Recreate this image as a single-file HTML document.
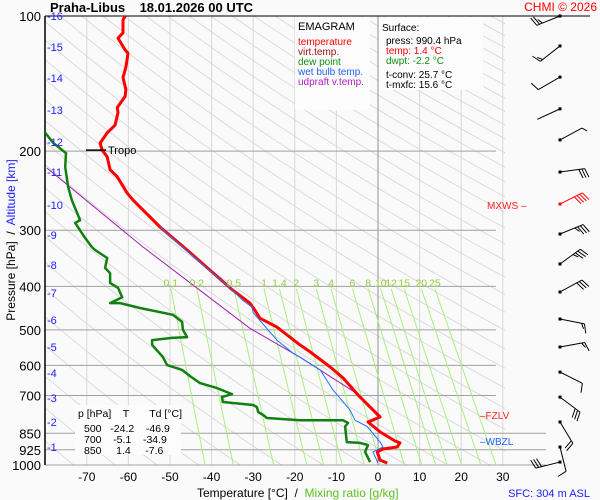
<!DOCTYPE html>
<html><head><meta charset="utf-8"><style>
body{margin:0;background:#fafafa;}
svg{display:block;font-family:"Liberation Sans",sans-serif;}
</style></head><body>
<svg id="chart" width="600" height="500" viewBox="0 0 600 500" xmlns="http://www.w3.org/2000/svg">
<defs><clipPath id="plotclip"><rect x="45" y="16" width="460" height="449"/></clipPath>
<clipPath id="plotclip2"><rect x="45" y="16" width="500" height="449"/></clipPath></defs>
<rect x="0" y="0" width="600" height="500" fill="#fafafa"/>
<g id="grid"></g>
<g id="series"></g>
<g id="barbs"></g>
<g id="labels"></g>

<text x="50" y="12" font-size="13" font-weight="bold" xml:space="preserve">Praha-Libus    18.01.2026 00 UTC</text>
<text x="597" y="11" font-size="12" fill="#ff0000" text-anchor="end">CHMI © 2026</text>

<g>
<rect x="295" y="17" width="75" height="93" fill="#fcfcfc"/>
<text x="298" y="30" font-size="11">EMAGRAM</text>
<text x="298" y="45" font-size="10" fill="#ff0000">temperature</text>
<text x="298" y="55" font-size="10" fill="#a01010">virt.temp.</text>
<text x="298" y="65" font-size="10" fill="#109010">dew point</text>
<text x="298" y="75" font-size="10" fill="#2060ff">wet bulb temp.</text>
<text x="298" y="85" font-size="10" fill="#b020c0">udpraft v.temp.</text>
</g>
<g>
<rect x="379" y="17" width="104" height="73" fill="#fcfcfc"/>
<text x="382" y="31" font-size="10">Surface:</text>
<text x="386" y="44" font-size="10">press: 990.4 hPa</text>
<text x="386" y="54" font-size="10" fill="#ff0000">temp: 1.4 °C</text>
<text x="386" y="64" font-size="10" fill="#109010">dwpt: -2.2 °C</text>
<text x="386" y="78" font-size="10">t-conv: 25.7 °C</text>
<text x="386" y="88" font-size="10">t-mxfc: 15.6 °C</text>
</g>
<g>
<rect x="75" y="405" width="106" height="50" fill="#fcfcfc"/>
<text x="78" y="417" font-size="10.5" xml:space="preserve">p [hPa]    T       Td [°C]</text>
<text x="84" y="432" font-size="10.5" xml:space="preserve">500   -24.2    -46.9</text>
<text x="84" y="443" font-size="10.5" xml:space="preserve">700    -5.1    -34.9</text>
<text x="84" y="454" font-size="10.5" xml:space="preserve">850     1.4     -7.6</text>
</g>

<text transform="translate(15,240) rotate(-90)" font-size="12" text-anchor="middle" xml:space="preserve">Pressure [hPa]  /  <tspan fill="#2020ff">Altitude [km]</tspan></text>
<text x="197" y="497" font-size="12" xml:space="preserve">Temperature [°C]  /  <tspan fill="#60c020">Mixing ratio [g/kg]</tspan></text>
<text x="590" y="497" font-size="11" fill="#2020ff" text-anchor="end">SFC: 304 m ASL</text>

<text x="487" y="209" font-size="10" fill="#ff2020">MXWS –</text>
<text x="480" y="419" font-size="10" fill="#ff2020">–FZLV</text>
<text x="480" y="445" font-size="10" fill="#2060ff">–WBZL</text>
</svg>
<script>
const tempP=[990,975,935,921,912,893,884,844,802,782,743,698,640,605,560,540,493,471,452,436,408,332,295,257,248,228,220,206,199,192,182,175,164,160,151,146,137,130,121,119,112,109,102,100];
const tempT=[2.2,0.5,-0.2,1.2,4.6,5.3,4.1,0.5,-2.4,0.5,-1.9,-4.8,-8.4,-11.5,-16.3,-18.8,-24.3,-28.4,-29.6,-30.8,-34.9,-45.9,-52.4,-58.9,-60.3,-62.7,-64.4,-65.1,-66.3,-66.8,-65.1,-63.2,-62.5,-62.7,-60.8,-60.6,-61.3,-60.6,-60.1,-60.8,-62.5,-61.3,-61.3,-60.8];
const dewP=[985,935,903,893,889,821,806,795,795,786,774,762,743,735,724,706,695,674,657,634,614,599,575,540,527,521,519,500,480,463,447,436,436,423,403,393,374,364,346,332,327,312,289,285,257,240,217,202,192,182,181];
const dewT=[-1.9,-3.1,-2.4,-4.3,-7.5,-7.9,-7.2,-8.4,-18.8,-26.7,-27.6,-28.8,-29.1,-30,-37.3,-37.5,-35.1,-38.7,-42.8,-45.2,-47.1,-50.7,-51.7,-54.3,-54.3,-49.5,-45.9,-46.9,-47.1,-49.3,-57.2,-62,-64.4,-61.5,-62.5,-64.4,-64.4,-65.6,-65.1,-68,-68.8,-70.4,-72.8,-71.6,-73.6,-74.5,-75.2,-75,-78,-80,-82];
const wetP=[990,935,912,889,821,795,755,681,614,575,564,527,458,445,430,403,332,295];
const wetT=[0,-1.2,1.2,0.5,-2.6,-5.5,-6.7,-10.8,-13.9,-18.8,-20.4,-24.3,-30,-30.3,-32.5,-35.6,-46.2,-52.4];
const updP=[689,575,496,327,218];
const updT=[-5.5,-18.8,-30.8,-56.5,-79.6];
const pressureTicks=[100,200,300,400,500,600,700,850,925,1000];
const tempTicks=[-70,-60,-50,-40,-30,-20,-10,0,10,20,30];
const altTicks=[16,15,14,13,12,11,10,9,8,7,6,5,4,3,2,1];
const altY=[16,47,78,110,142,172,205,235,265,293,320,347,373,398,422,447];
const mixRatios=[0.1,0.2,0.5,1,1.4,2,3,4,6,8,10,12,15,20,25];
const windP=[100,116.6,136.8,161,188.8,222.6,262.3,305.9,356.7,411.8,473,546,621,706,802,912,985];
const windDx=[-25,-23,-26,-24,24,22,22,22,22,22,20,22,22,20,12,5,-20];
const windDy=[10,18,15,11,-13,-3,-11,-9,-16,-12,4,-4,11,15,20,20,5];
const windFeathers=[2.5,1.5,1,0,0.5,3,4,3.5,3.5,3,1.5,1.5,1,3,2,1,3];
const maxWindP=262.3;

const NS='http://www.w3.org/2000/svg';
const X=t=>378+t*4.16;
const Y=p=>16+Math.log10(p/100)*449;
function mk(tag,attrs,parent){const e=document.createElementNS(NS,tag);for(const k in attrs)e.setAttribute(k,attrs[k]);parent.appendChild(e);return e;}
const grid=document.getElementById('grid'),series=document.getElementById('series'),barbs=document.getElementById('barbs'),labels=document.getElementById('labels');

const adG=mk('g',{'clip-path':'url(#plotclip)'},grid);


for(let th=180;th<=600;th+=10){
  let d='';
  for(let p=100;p<=1000;p+=10){const T=th*Math.pow(p/1000,0.286)-273.15;d+=(d?'L':'M')+X(T).toFixed(1)+' '+Y(p).toFixed(1);}
  const a=mk('path',{d:d,stroke:'#d4d4d4','stroke-width':0.8,fill:'none'},adG);
  
  
}
tempTicks.forEach(t=>{
  const l=mk('line',{x1:X(t),x2:X(t),y1:16,y2:465,stroke:t===0?'#909090':'#d8d8d8','stroke-width':1},grid);
  
  
  const tx=mk('text',{x:X(t),y:481,'font-size':12,'text-anchor':'middle'},labels);
  tx.textContent=t;
  
  
});
pressureTicks.forEach(p=>{
  const xe=(p>=850)?546:(p===100?590:496);
  const l=mk('line',{x1:45,x2:xe,y1:Y(p),y2:Y(p),stroke:p===100?'#000':'#a0a0a0','stroke-width':1},grid);
  
  
  const tx=mk('text',{x:41,y:Y(p)+5,'font-size':13,'text-anchor':'end'},labels);
  tx.textContent=p;
  
  
});
altTicks.forEach((k,i)=>{
  const tx=mk('text',{x:47,y:altY[i]+4,'font-size':11,fill:'#2020ff'},labels);
  tx.textContent='-'+k;
  
  
});
function tdFromR(r,p){const e=r*p/(622+r);const l=Math.log(e/6.112);return 243.5*l/(17.67-l);}
mixRatios.forEach(r=>{
  const l=mk('line',{x1:X(tdFromR(r,405)),y1:Y(405),x2:X(tdFromR(r,1000)),y2:465,stroke:'#a8f080','stroke-width':1},grid);
  
  
  const tx=mk('text',{x:X(tdFromR(r,405)),y:Y(405)-2,'font-size':10.5,fill:'#90d040','text-anchor':'middle'},labels);
  tx.textContent=r;
  
  
});
const ax1=mk('line',{x1:45,x2:45,y1:16,y2:465,stroke:'#000','stroke-width':1.5},grid);



function line(P,T,color,w,name){
  const d=P.map((p,i)=>(i?'L':'M')+X(T[i]).toFixed(1)+' '+Y(p).toFixed(1)).join('');
  const e=mk('path',{d:d,stroke:color,'stroke-width':w,fill:'none','stroke-linejoin':'round','clip-path':'url(#plotclip2)'},series);
  
  
}
line(updP,updT,'#a020b0',1,'updraft-line');
line(dewP,dewT,'#108010',2.5,'dew-point-line');
line(tempP,tempT,'#ff0000',3,'temperature-line');
line(wetP,wetT,'#2070ff',1,'wet-bulb-line');

const tr=mk('line',{x1:86,x2:106,y1:Y(199),y2:Y(199),stroke:'#000','stroke-width':1.5},series);


const trt=mk('text',{x:108,y:Y(199)+4,'font-size':11},series);
trt.textContent='Tropo';



windP.forEach((p,i)=>{
  const y0=Y(p),x0=560;
  const col=(p===maxWindP)?'#ff0000':'#000';
  const g=mk('g',{stroke:col,fill:col},barbs);
  
  
  const dx=windDx[i],dy=windDy[i],L=Math.hypot(dx,dy),ux=dx/L,uy=dy/L;
  const ex=x0+ux*25,ey=y0+uy*25;
  mk('rect',{x:x0-1.5,y:y0-1.5,width:3,height:3,stroke:'none'},g);
  mk('line',{x1:x0,y1:y0,x2:ex,y2:ey,'stroke-width':1},g);
  const px=-uy,py=ux;let f=windFeathers[i],k=0;
  while(f>0){
    const len=f>=1?9:5;
    const bx=ex-ux*k*3,by=ey-uy*k*3;
    mk('line',{x1:bx,y1:by,x2:bx+px*len+ux*3,y2:by+py*len+uy*3,'stroke-width':1},g);
    f-=1;k++;
  }
});
</script>
</body></html>
